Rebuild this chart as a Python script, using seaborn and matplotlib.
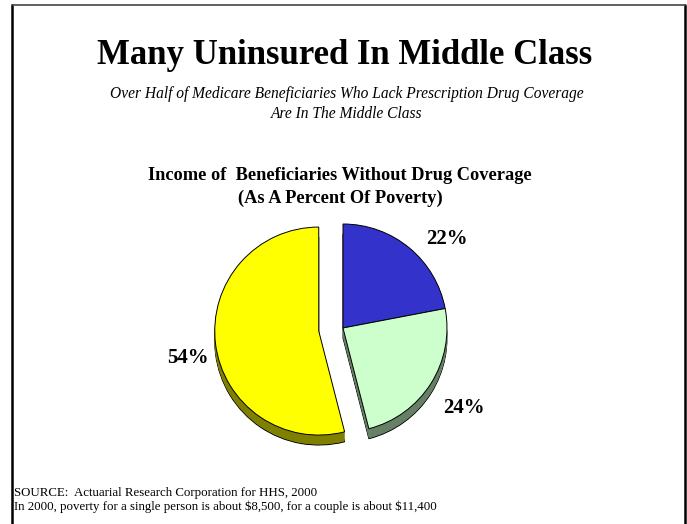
import numpy as np
import seaborn as sns
import matplotlib.pyplot as plt
from matplotlib.lines import Line2D

# data
categories = ["Under 135% of poverty", "135-200% of poverty", "Over 200% of poverty"]
shares = [22, 24, 54]
explode = [0, 0, 0.235]
top_colors = ["#3333CC", "#CCFFCC", "#FFFF00"]
side_colors = ["#1A1A66", "#668066", "#808000"]
label_pos = [(1.0, 0.86), (1.16, -0.77), (-1.49, -0.29)]

sns.set_theme(style="white")
plt.rcParams["font.family"] = ["Liberation Serif", "DejaVu Serif"]
plt.rcParams["text.color"] = "black"

W, H = 687, 524
fig = plt.figure(figsize=(W / 100, H / 100), dpi=100)

# frame around the slide
fig.add_artist(Line2D([12 / W, 12 / W], [0, 1 - 5 / H], color="black", lw=1.8))
fig.add_artist(Line2D([685 / W, 685 / W], [0, 1 - 5 / H], color="black", lw=1.8))
fig.add_artist(Line2D([12 / W, 685 / W], [1 - 5 / H, 1 - 5 / H], color="#444444", lw=1.2))

# titles
fig.text(345 / W, 1 - 56 / H, "Many Uninsured In Middle Class", ha="center", va="center",
         fontsize=25, fontweight="bold")
fig.text(347 / W, 1 - 94 / H, "Over Half of Medicare Beneficiaries Who Lack Prescription Drug Coverage",
         ha="center", va="center", fontsize=11.2, style="italic")
fig.text(347 / W, 1 - 114 / H, "Are In The Middle Class", ha="center", va="center",
         fontsize=11.2, style="italic")
fig.text(340 / W, 1 - 176 / H, "Income of  Beneficiaries Without Drug Coverage", ha="center",
         va="center", fontsize=13.2, fontweight="bold")
fig.text(340 / W, 1 - 198 / H, "(As A Percent Of Poverty)", ha="center", va="center",
         fontsize=13.2, fontweight="bold")

# footnote
fig.text(14 / W, 1 - 493 / H, "SOURCE:  Actuarial Research Corporation for HHS, 2000",
         ha="left", va="center", fontsize=9.3)
fig.text(14 / W, 1 - 507 / H,
         "In 2000, poverty for a single person is about \\$8,500, for a couple is about \\$11,400",
         ha="left", va="center", fontsize=9.3)

# pie axes: 1 data unit = 104 px, centred at (343, 328)
cx, cy, half = 343, 328, 130
ax = fig.add_axes([(cx - half) / W, (H - cy - half) / H, 2 * half / W, 2 * half / H])
ax.set_xlim(-1.25, 1.25)
ax.set_ylim(-1.25, 1.25)
ax.set_aspect("equal")
ax.axis("off")

depth = 0.096
steps = 14
# side walls of the 3D pie, drawn bottom-up
for k in range(steps, 0, -1):
    dz = depth * k / steps
    edge = "black" if k == steps else "none"
    ax.pie(shares, explode=explode, colors=side_colors, startangle=90, counterclock=False,
           center=(0, -dz), radius=1.0,
           wedgeprops=dict(edgecolor=edge, linewidth=0.7))

# top face
ax.pie(shares, explode=explode, colors=top_colors, startangle=90, counterclock=False,
       radius=1.0, wedgeprops=dict(edgecolor="black", linewidth=0.7))
ax.set_xlim(-1.25, 1.25)
ax.set_ylim(-1.25, 1.25)

for val, (x, y) in zip(shares, label_pos):
    ax.text(x, y, f"{val}%", ha="center", va="center", fontsize=15, fontweight="bold")

fig.savefig("out.png", dpi=100, facecolor="white")
